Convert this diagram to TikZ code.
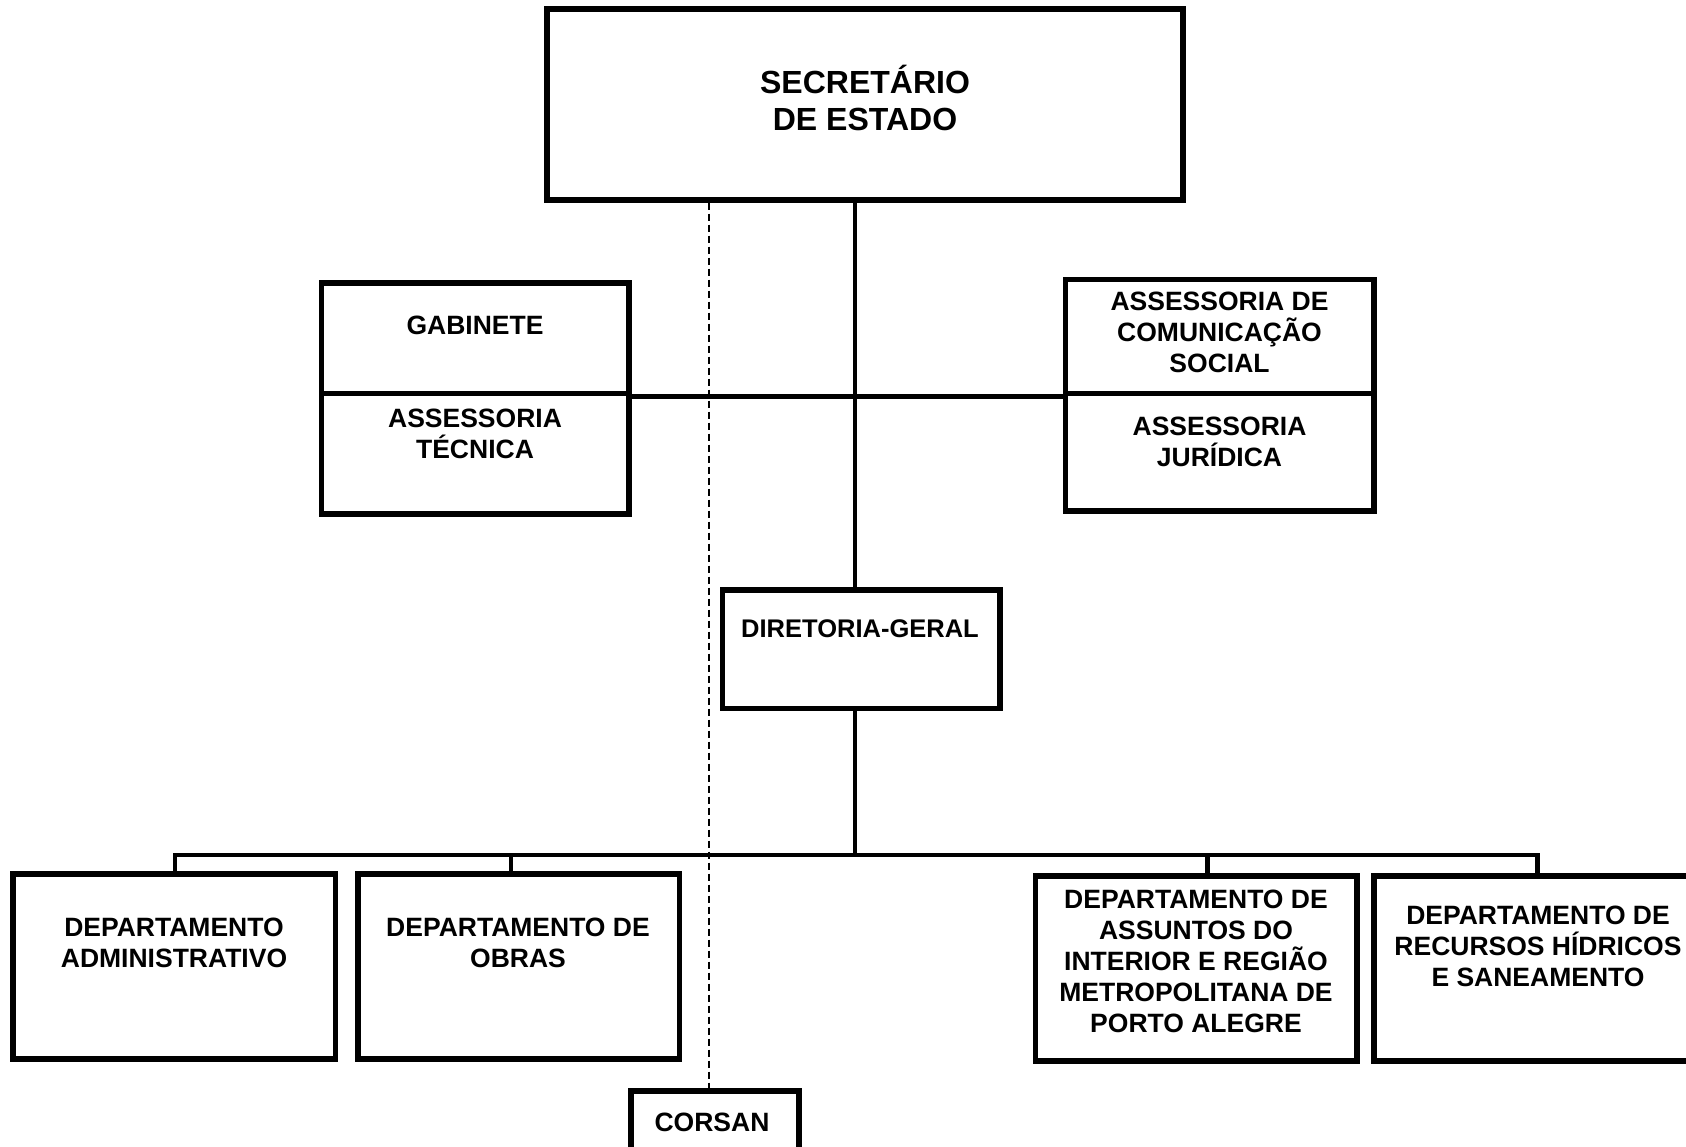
\documentclass[tikz,border=0pt]{standalone}
\usepackage{fontspec}
\setmainfont{Liberation Sans}
\begin{document}
\begin{tikzpicture}[x=1pt,y=-1pt,
  box/.style={draw, line width=5.4pt, inner sep=0pt, rectangle},
  txt/.style={font=\bfseries\fontsize{26.5}{31}\selectfont, align=center, inner sep=0pt},
  conn/.style={line width=4.6pt},
  dashconn/.style={line width=1.9pt, dash pattern=on 7pt off 4pt}]
\useasboundingbox (0,0) rectangle (1686,1146);
\clip (0,0) rectangle (1686,1146);
% boxes
\node[box, minimum width=636, minimum height=191] (sec) at (865,104.5) {};
\node[box, minimum width=307.5, minimum height=110.6] (gab) at (475.25,338.3) {};
\node[box, minimum width=307.5, minimum height=120.4] (atec) at (475.25,453.8) {};
\node[box, minimum width=308.4, minimum height=114] (acs) at (1219.8,336.6) {};
\node[box, minimum width=308.4, minimum height=117.2] (ajur) at (1219.8,452.2) {};
\node[box, minimum width=277.4, minimum height=118.6] (dg) at (861.3,649.3) {};
\node[box, minimum width=322.5, minimum height=185] (d1) at (174.25,966.5) {};
\node[box, minimum width=321.6, minimum height=185] (d2) at (518.8,966.5) {};
\node[box, minimum width=321.5, minimum height=185] (d3) at (1196.25,968.5) {};
\node[box, minimum width=328, minimum height=185] (d4) at (1538,968.5) {};
\node[box, minimum width=168, minimum height=72] (cors) at (715,1127) {};
% texts
\node[txt, font=\bfseries\fontsize{32}{36.6}\selectfont] (sect) at (865,98) {SECRETÁRIO\\DE ESTADO};
\node[txt] (gabt) at (475,325) {GABINETE};
\node[txt] (atect) at (475,434) {ASSESSORIA\\TÉCNICA};
\node[txt] (acst) at (1219.5,332) {ASSESSORIA DE\\COMUNICAÇÃO\\SOCIAL};
\node[txt] (ajurt) at (1219.5,441.5) {ASSESSORIA\\JURÍDICA};
\node[txt, font=\bfseries\fontsize{25.5}{31}\selectfont] (dgt) at (860,629) {DIRETORIA-GERAL};
\node[txt] (d1t) at (174,943) {DEPARTAMENTO\\ADMINISTRATIVO};
\node[txt] (d2t) at (518,943) {DEPARTAMENTO DE\\OBRAS};
\node[txt] (d3t) at (1196,961.4) {DEPARTAMENTO DE\\ASSUNTOS DO\\INTERIOR E REGIÃO\\METROPOLITANA DE\\PORTO ALEGRE};
\node[txt] (d4t) at (1538,946) {DEPARTAMENTO DE\\RECURSOS HÍDRICOS\\E SANEAMENTO};
\node[txt] (corst) at (712,1122) {CORSAN};
% helper coordinates
\coordinate (spine) at (855,0);
\coordinate (dashx) at (708.6,0);
\coordinate (bus) at (0,855);
\coordinate (d1x) at (175,0);
\coordinate (d2x) at (511,0);
\coordinate (d3x) at (1207.6,0);
\coordinate (d4x) at (1537.6,0);
% connectors
\draw[dashconn] (sec.south -| dashx) -- (cors.north -| dashx);
\draw[conn] (sec.south -| spine) -- (dg.north -| spine);
\draw[conn] (gab.south east) -- (acs.south west);
\draw[conn] (dg.south -| spine) -- (bus -| spine);
\draw[conn] (d1.north -| d1x) -- (bus -| d1x) -- (bus -| d4x) -- (d4.north -| d4x);
\draw[conn] (bus -| d2x) -- (d2.north -| d2x);
\draw[conn] (bus -| d3x) -- (d3.north -| d3x);
\end{tikzpicture}
\end{document}
